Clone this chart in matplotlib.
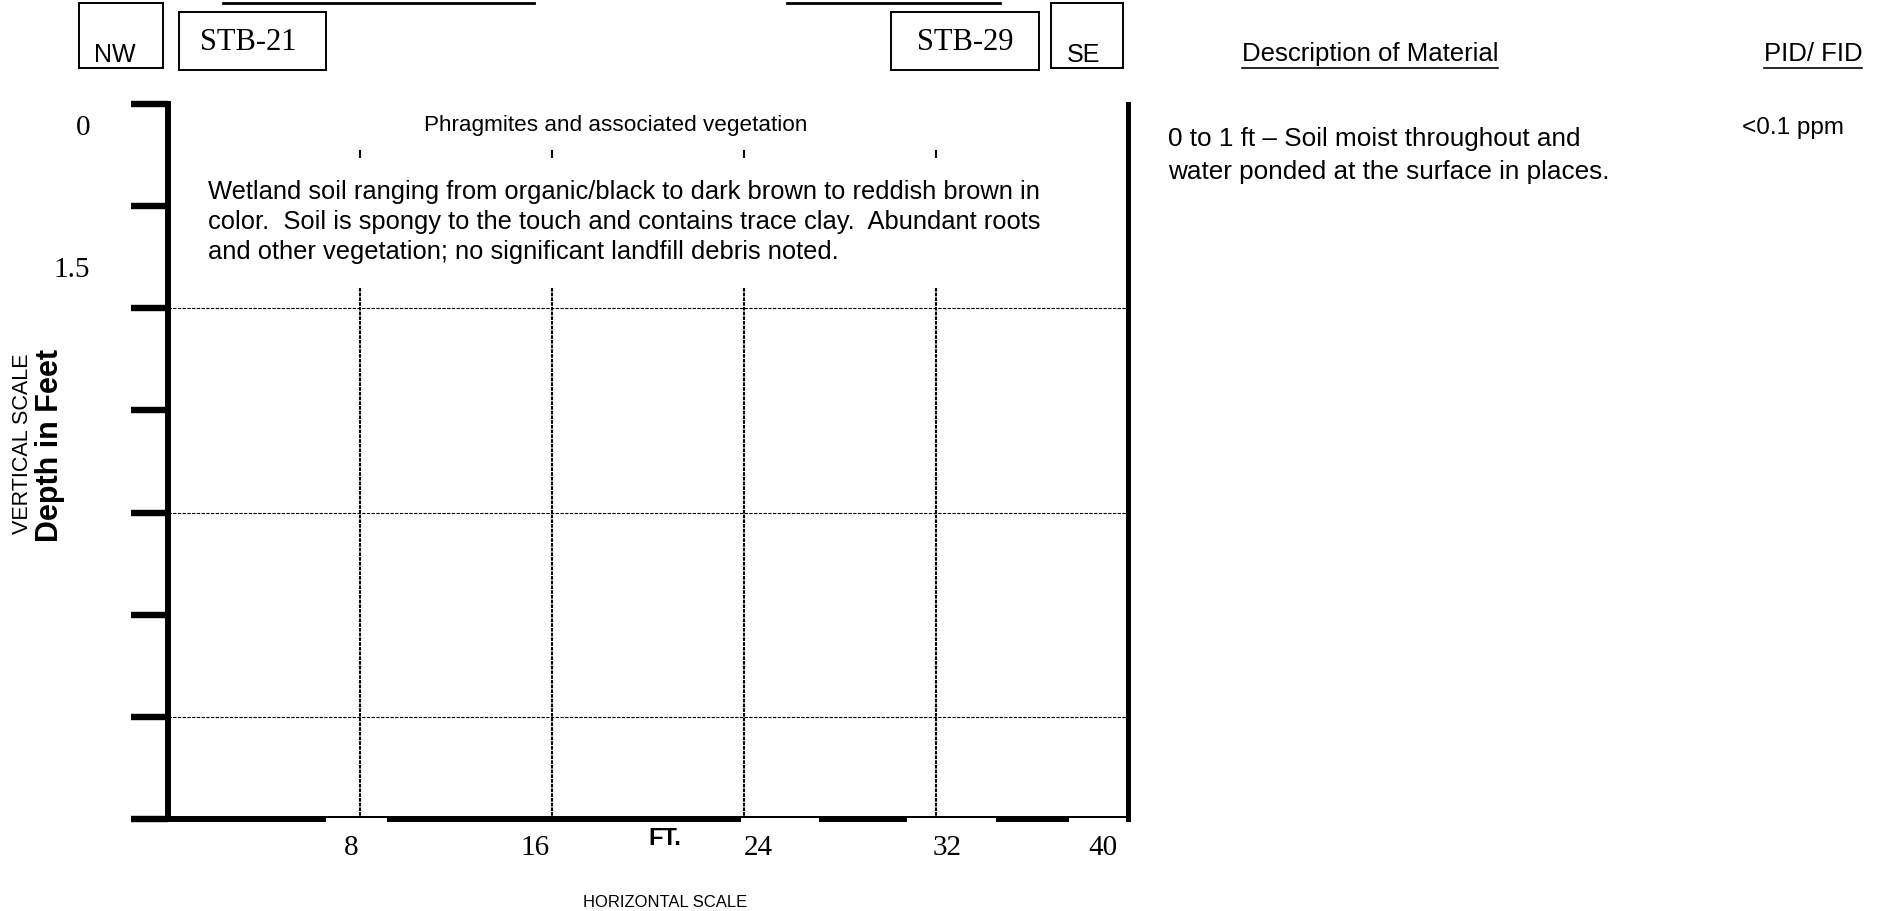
import matplotlib
matplotlib.use("Agg")
import matplotlib.pyplot as plt
from matplotlib.patches import Rectangle

plt.rcParams['font.family'] = 'Liberation Sans'
plt.rcParams['lines.scale_dashes'] = False

# ---- section content ----
total_width = 40          # ft, horizontal scale
total_depth = 5.25        # ft, vertical scale
depth_ticks = [0, 0.75, 1.5, 2.25, 3.0, 3.75, 4.5, 5.25]
depth_label_vals = [0, 1.5]
depth_label_txt = ["0", "1.5"]
layer_lines = [1.5, 3.0, 4.5]
grid_x = [8, 16, 24, 32]
dist_vals = [8, 16, 24, 32, 40]
dist_txt = ["8", "16", "24", "32", "40"]
grid_top = 1.35           # dashed verticals start here
mark_top, mark_bot = 0.34, 0.40

borings = ["STB-21", "STB-29"]
directions = ["NW", "SE"]
surface_note = "Phragmites and associated vegetation"
soil_lines = ["Wetland soil ranging from organic/black to dark brown to reddish brown in",
              "color.  Soil is spongy to the touch and contains trace clay.  Abundant roots",
              "and other vegetation; no significant landfill debris noted."]
desc_header = "Description of Material"
pid_header = "PID/ FID"
desc_lines = ["0 to 1 ft \u2013 Soil moist throughout and",
              "water ponded at the surface in places."]
pid_value = "<0.1 ppm"

W, H = 1888, 912
fig = plt.figure(figsize=(W / 100, H / 100), dpi=100)

# pixel canvas for the page furniture
cv = fig.add_axes([0, 0, 1, 1], zorder=0)
cv.set_xlim(0, W)
cv.set_ylim(H, 0)
cv.axis('off')

# the section itself
ax = fig.add_axes([168 / W, 1 - 820 / H, 960 / W, 715 / H], zorder=1)
ax.set_xlim(0, total_width)
ax.set_ylim(total_depth, 0)
ax.patch.set_alpha(0)

ax.hlines(layer_lines, 0, total_width, colors='black', lw=0.8,
          linestyles=[(0, (2.4, 1.0))], zorder=1)
ax.vlines(grid_x, grid_top, total_depth, colors='black', lw=1.5,
          linestyles=[(0, (2.6, 0.8))], zorder=1)
ax.vlines(grid_x, mark_top, mark_bot, colors='black', lw=1.5, zorder=1)

ax.spines['top'].set_visible(False)
ax.spines['left'].set_linewidth(4.3)
ax.spines['bottom'].set_linewidth(4.3)
ax.spines['right'].set_linewidth(3.6)
ax.set_xticks([])
ax.set_yticks(depth_ticks)
ax.tick_params(axis='y', direction='out', length=27, width=4.6,
               color='black', labelleft=False)

# white boxes behind some scale numbers cut into the bottom line
for x0, x1 in [(326, 387), (741, 819), (907, 996), (1069, 1125.5)]:
    ax.add_patch(Rectangle((x0, 819.2), x1 - x0, 16, transform=cv.transData,
                           facecolor='white', edgecolor='none', clip_on=False, zorder=5))

serif = 'Liberation Serif'
dist_dx = [-9, -17, 14, 11, -25]
for v, t, dx in zip(dist_vals, dist_txt, dist_dx):
    ax.annotate(t, xy=(v, total_depth), xycoords='data', xytext=(dx, -28),
                textcoords='offset pixels', ha='center', va='center',
                family=serif, fontsize=21, annotation_clip=False, zorder=6)

depth_dx = [-85, -96]
depth_dy = [-23, 39]
for v, t, dx, dy in zip(depth_label_vals, depth_label_txt, depth_dx, depth_dy):
    ax.annotate(t, xy=(0, v), xycoords='data', xytext=(dx, dy),
                textcoords='offset pixels', ha='center', va='center',
                family=serif, fontsize=21, annotation_clip=False)

ax.text(18.65, 0.15, surface_note, ha='center', va='center', fontsize=16.2)
for i, line in enumerate(soil_lines):
    cv.text(208, 192 + 30 * i, line, ha='left', va='center', fontsize=18.4)

# header boxes
box_kw = dict(fill=False, edgecolor='black', lw=1.4)
cv.add_patch(Rectangle((79, 4), 84, 65, **box_kw))
cv.add_patch(Rectangle((179, 13), 147, 58, **box_kw))
cv.add_patch(Rectangle((891, 13), 148, 58, **box_kw))
cv.add_patch(Rectangle((1051, 4), 72, 65, **box_kw))
cv.text(115, 55, directions[0], ha='center', va='center', fontsize=18)
cv.text(1083, 55, directions[1], ha='center', va='center', fontsize=18)
cv.text(248, 43, borings[0], ha='center', va='center', family=serif, fontsize=22)
cv.text(965, 43, borings[1], ha='center', va='center', family=serif, fontsize=22)

# underlines of the cut-off heading
cv.plot([223, 534], [4, 4], color='black', lw=2)
cv.plot([787, 1000], [4, 4], color='black', lw=2)

# axis captions
cv.text(23, 444, "VERTICAL SCALE", rotation=90, ha='center', va='center', fontsize=15.5)
cv.text(50, 446, "Depth in Feet", rotation=90, ha='center', va='center',
        fontsize=22, fontweight='bold')
cv.text(665, 839, "FT.", ha='center', va='center', fontsize=17, fontweight='bold')
cv.text(665, 903, "HORIZONTAL SCALE", ha='center', va='center', fontsize=12)

# description column
renderer = fig.canvas.get_renderer()
for x, txt in [(1370, desc_header), (1813, pid_header)]:
    t = cv.text(x, 54, txt, ha='center', va='center', fontsize=18.5)
    bb = t.get_window_extent(renderer=renderer).transformed(cv.transData.inverted())
    cv.plot([bb.x0, bb.x1], [69, 69], color='black', lw=1.2)

for i, line in enumerate(desc_lines):
    cv.text(1168, 139 + 33 * i, line, ha='left', va='center', fontsize=18.8)
cv.text(1742, 128, pid_value, ha='left', va='center', fontsize=17.5)

fig.savefig("out.png", dpi=100, facecolor='white')
